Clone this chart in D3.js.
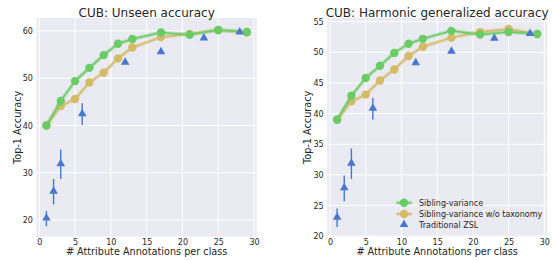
<!DOCTYPE html>
<html>
<head>
<meta charset="utf-8">
<script src="https://cdn.jsdelivr.net/npm/d3@7"></script>
<style>
  body { margin: 0; background: #fff; }
  svg { font-family: "DejaVu Sans", sans-serif; }
</style>
</head>
<body>
<svg id="chart" width="552" height="260"></svg>
<script>
// annotation budgets (x) for the two curves and the baseline
const xsCurve = [1, 3, 5, 7, 9, 11, 13, 17, 21, 25, 29];
const xsZsl = [1, 2, 3, 6, 12, 17, 23, 28];

// CUB unseen accuracy
const unseenSibling = [40, 45.2, 49.4, 52.2, 54.9, 57.3, 58.3, 59.7, 59.2, 60.2, 59.8];
const unseenNoTax = [40, 44.1, 45.6, 49.1, 51.2, 54.2, 56.5, 58.7, 59.4, 60.2, 59.7];
const unseenZsl = [20.3, 26.0, 31.8, 42.4, 53.3, 55.5, 58.4, 59.7];
const unseenZslErr = [1.6, 2.7, 3.1, 2.3, 0, 0, 0, 0];

// CUB harmonic generalized accuracy
const harmSibling = [39.0, 42.9, 45.8, 47.8, 49.9, 51.4, 52.2, 53.5, 52.9, 53.3, 53.0];
const harmNoTax = [39.0, 42.0, 43.1, 45.4, 47.2, 49.4, 50.9, 52.4, 53.3, 53.8, 53.0];
const harmZsl = [23.0, 27.8, 31.8, 40.8, 48.2, 50.1, 52.2, 53.0];
const harmZslErr = [1.5, 2.1, 2.5, 1.8, 0, 0, 0, 0];

const seriesNames = ["Sibling-variance", "Sibling-variance w/o taxonomy", "Traditional ZSL"];
const xTicks = [0, 5, 10, 15, 20, 25, 30];
const unseenTicks = [20, 30, 40, 50, 60];
const harmTicks = [20, 25, 30, 35, 40, 45, 50, 55];

const green = "#6acc65", tan = "#d5bb67", blue = "#4878d0";
const svg = d3.select("#chart");
const plotTop = 18, plotBottom = 236.7;

function panel(opts) {
  const g = svg.append("g");
  const x = d3.scaleLinear().domain([-0.4, 30.4]).range([opts.left, opts.right]);
  const y = d3.scaleLinear().domain(opts.yDomain).range([plotBottom, plotTop]);

  g.append("rect")
    .attr("x", opts.left).attr("y", plotTop)
    .attr("width", opts.right - opts.left).attr("height", plotBottom - plotTop)
    .attr("fill", "#eaeaf2");

  // grid
  g.selectAll(".gx").data(xTicks).enter().append("line")
    .attr("x1", d => x(d)).attr("x2", d => x(d))
    .attr("y1", plotTop).attr("y2", plotBottom)
    .attr("stroke", "#fff").attr("stroke-width", 1);
  g.selectAll(".gy").data(opts.yTicks).enter().append("line")
    .attr("x1", opts.left).attr("x2", opts.right)
    .attr("y1", d => y(d)).attr("y2", d => y(d))
    .attr("stroke", "#fff").attr("stroke-width", 1);

  const xAxis = g.append("g").attr("transform", `translate(0,${plotBottom})`)
    .call(d3.axisBottom(x).tickValues(xTicks).tickSize(0).tickPadding(3));
  const yAxis = g.append("g").attr("transform", `translate(${opts.left},0)`)
    .call(d3.axisLeft(y).tickValues(opts.yTicks).tickSize(0).tickPadding(3.5));
  [xAxis, yAxis].forEach(a => {
    a.select(".domain").remove();
    a.selectAll("text").attr("font-size", "8px").attr("fill", "#262626")
      .attr("font-family", "DejaVu Sans, sans-serif");
  });

  const clip = "clip" + Math.round(opts.left);
  g.append("clipPath").attr("id", clip).append("rect")
    .attr("x", opts.left).attr("y", plotTop)
    .attr("width", opts.right - opts.left).attr("height", plotBottom - plotTop);
  const plot = g.append("g").attr("clip-path", `url(#${clip})`);

  const line = d3.line().x((d, i) => x(xsCurve[i])).y(d => y(d));
  [[opts.noTax, tan], [opts.sibling, green]].forEach(([vals, col]) => {
    plot.append("path").datum(vals).attr("d", line)
      .attr("fill", "none").attr("stroke", col).attr("stroke-width", 4).attr("opacity", 0.35);
    plot.append("path").datum(vals).attr("d", line)
      .attr("fill", "none").attr("stroke", col).attr("stroke-width", 1.5);
    plot.selectAll(null).data(vals).enter().append("circle")
      .attr("cx", (d, i) => x(xsCurve[i])).attr("cy", d => y(d))
      .attr("r", 4.2).attr("fill", col);
  });

  const tri = d3.symbol().type(d3.symbolTriangle).size(32);
  opts.zsl.forEach((v, i) => {
    const e = opts.zslErr[i];
    if (e > 0) {
      plot.append("line")
        .attr("x1", x(xsZsl[i])).attr("x2", x(xsZsl[i]))
        .attr("y1", y(v - e)).attr("y2", y(v + e))
        .attr("stroke", blue).attr("stroke-width", 1.4);
    }
    plot.append("path").attr("d", tri)
      .attr("transform", `translate(${x(xsZsl[i])},${y(v) - 0.5})`)
      .attr("fill", blue);
  });

  const cx = (opts.left + opts.right) / 2;
  g.append("text").attr("x", cx).attr("y", 16.5).attr("text-anchor", "middle")
    .attr("font-size", "12px").attr("fill", "#262626").text(opts.title);
  g.append("text").attr("x", cx).attr("y", 255).attr("text-anchor", "middle")
    .attr("font-size", "9.7px").attr("fill", "#262626")
    .text("# Attribute Annotations per class");
  g.append("text")
    .attr("transform", `translate(${opts.labelX},${(plotTop + plotBottom) / 2}) rotate(-90)`)
    .attr("text-anchor", "middle").attr("font-size", "9.7px").attr("fill", "#262626")
    .text("Top-1 Accuracy");
  return { x, y, g };
}

panel({
  left: 36.4, right: 256.9, yDomain: [16.47, 62.75], yTicks: unseenTicks,
  sibling: unseenSibling, noTax: unseenNoTax, zsl: unseenZsl, zslErr: unseenZslErr,
  title: "CUB: Unseen accuracy", labelX: 21
});
panel({
  left: 327.1, right: 547.2, yDomain: [19.9, 55.6], yTicks: harmTicks,
  sibling: harmSibling, noTax: harmNoTax, zsl: harmZsl, zslErr: harmZslErr,
  title: "CUB: Harmonic generalized accuracy", labelX: 311
});

// legend
const legend = svg.append("g");
const legendColors = [green, tan, blue];
const legendRows = [202.7, 214, 225];
seriesNames.forEach((name, i) => {
  const ly = legendRows[i];
  if (i < 2) {
    legend.append("line").attr("x1", 396.5).attr("x2", 411.7).attr("y1", ly).attr("y2", ly)
      .attr("stroke", legendColors[i]).attr("stroke-width", 4).attr("opacity", 0.35);
    legend.append("line").attr("x1", 396.5).attr("x2", 411.7).attr("y1", ly).attr("y2", ly)
      .attr("stroke", legendColors[i]).attr("stroke-width", 1.5);
    legend.append("circle").attr("cx", 404).attr("cy", ly).attr("r", 4.2).attr("fill", legendColors[i]);
  } else {
    legend.append("path").attr("d", d3.symbol().type(d3.symbolTriangle).size(32))
      .attr("transform", `translate(404,${ly - 0.5})`).attr("fill", blue);
  }
  legend.append("text").attr("x", 419).attr("y", ly + 3).attr("font-size", "8px")
    .attr("fill", "#262626").text(name);
});
</script>
</body>
</html>
